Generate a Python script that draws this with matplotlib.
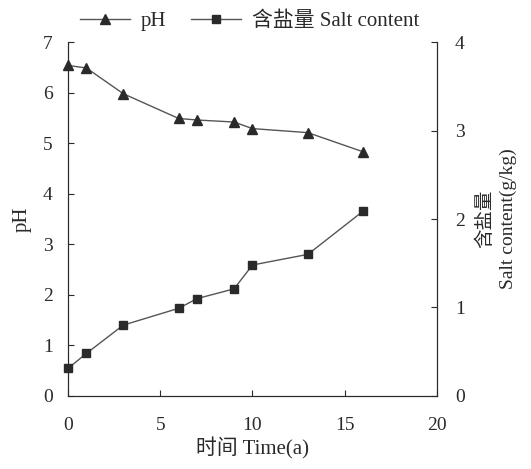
import matplotlib
matplotlib.use('Agg')
import matplotlib.pyplot as plt

plt.rcParams['font.family'] = ['Liberation Serif', 'Noto Sans CJK SC']
plt.rcParams['font.size'] = 15

# data
time = [0, 1, 3, 6, 7, 9, 10, 13, 16]
ph = [6.54, 6.49, 5.98, 5.49, 5.46, 5.42, 5.29, 5.21, 4.83]
salt = [0.31, 0.48, 0.80, 0.99, 1.10, 1.21, 1.48, 1.60, 2.09]

ink = '#2a2a2a'
line_c = '#555555'

fig = plt.figure(figsize=(5.31, 4.69), dpi=100)
ax = fig.add_axes([0.128, 0.156, 0.695, 0.754])
ax2 = ax.twinx()

l1, = ax.plot(time, ph, color=line_c, lw=1, marker='^', ms=7,
              mfc=ink, mec=ink, label='pH', clip_on=False)
l2, = ax2.plot(time, salt, color=line_c, lw=1, marker='s', ms=6,
               mfc=ink, mec=ink, label='含盐量 Salt content', clip_on=False)

ax.set_xlim(0, 20)
ax.set_ylim(0, 7)
ax2.set_ylim(0, 4)
ax.set_xticks([0, 5, 10, 15, 20])
ax.set_yticks(range(0, 8))
ax2.set_yticks(range(0, 5))

for a in (ax, ax2):
    a.spines['top'].set_visible(False)
    for s in a.spines.values():
        s.set_color(ink)
        s.set_linewidth(0.8)
    a.tick_params(direction='in', length=4, width=0.8, colors=ink,
                  labelsize=14)
ax.tick_params(axis='x', pad=15)
ax.tick_params(axis='y', pad=11)
ax2.tick_params(axis='y', pad=13)

ax.set_xlabel('时间 Time(a)', color=ink, fontsize=15, labelpad=3)
ax.set_ylabel('pH', color=ink, fontsize=15, labelpad=8)
ax2.set_ylabel('含盐量\nSalt content(g/kg)', color=ink, fontsize=14,
               labelpad=8, linespacing=1.4)

fig.legend(handles=[l1, l2], loc='upper center', bbox_to_anchor=(0.47, 1.015),
           ncol=2, frameon=False, fontsize=15, handlelength=2.4,
           columnspacing=1.2, handletextpad=0.5, labelcolor=ink)

fig.savefig('out.png', dpi=100)
